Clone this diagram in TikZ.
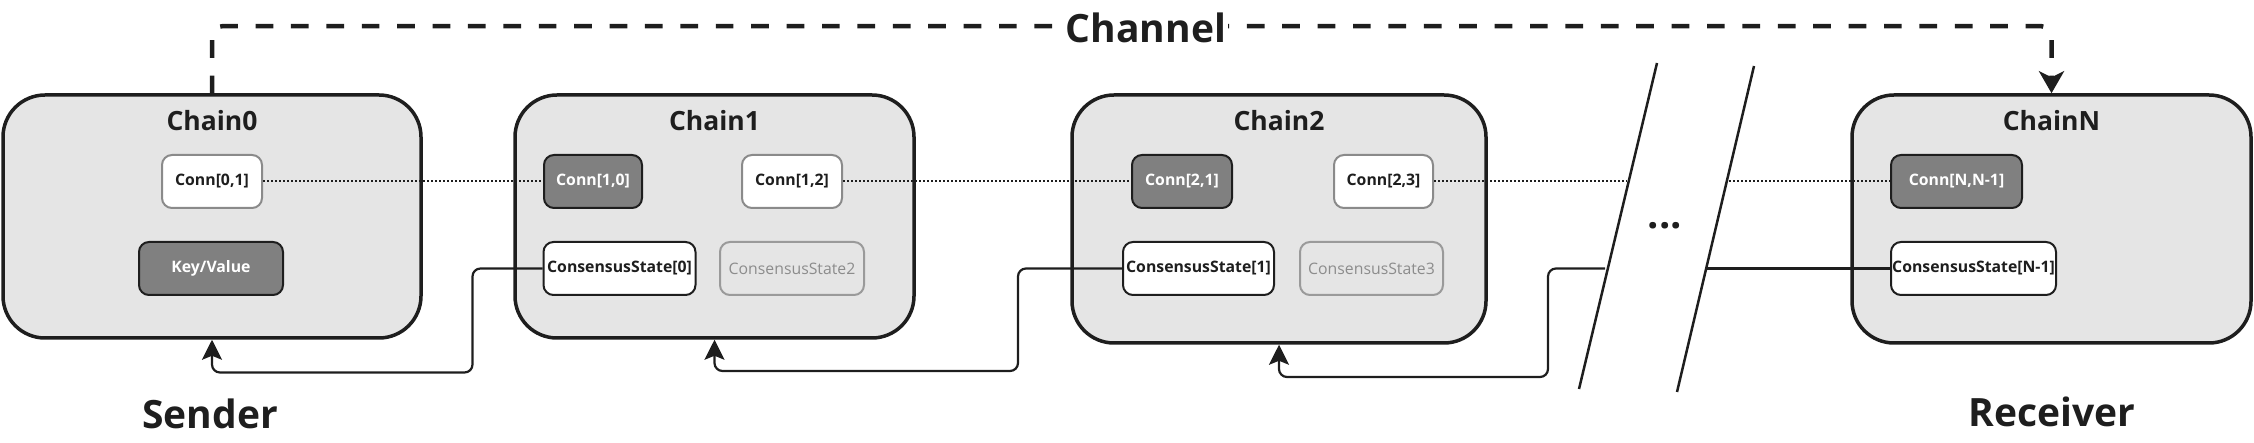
\documentclass[tikz,border=0pt]{standalone}
\usepackage{fontspec}
\setmainfont{Open Sans}
\usetikzlibrary{arrows.meta,calc}
\definecolor{chainfill}{HTML}{E5E5E5}
\definecolor{ink}{HTML}{1E1E1E}
\definecolor{darkfill}{HTML}{808080}
\definecolor{lightborder}{HTML}{8A8A8A}
\definecolor{fadetext}{HTML}{8C8C8C}
\definecolor{fadeborder}{HTML}{9A9A9A}
\begin{document}
\begin{tikzpicture}[x=1pt,y=-1pt,
  chainbox/.style={draw=ink, line width=3.5pt, fill=chainfill, rounded corners=42pt, inner sep=0pt},
  chaintitle/.style={font=\fontsize{26.5}{29}\selectfont\bfseries, text=ink, anchor=base},
  bigtext/.style={font=\fontsize{39}{44}\selectfont\bfseries, text=ink},
  inbox/.style={rounded corners=10pt, minimum height=53pt, inner sep=0pt, line width=2pt, font=\fontsize{15.8}{18}\selectfont\bfseries},
  darkbox/.style={inbox, draw=ink, fill=darkfill, text=white},
  whitebox/.style={inbox, draw=lightborder, fill=white, text=ink},
  statebox/.style={inbox, draw=ink, fill=white, text=ink},
  fadebox/.style={inbox, draw=fadeborder, fill=chainfill, text=fadetext, font=\fontsize{15.8}{18}\selectfont},
  link/.style={draw=ink, line width=2pt, dash pattern=on 2pt off 2pt},
  conn/.style={draw=ink, line width=2.2pt, rounded corners=8pt},
  connarrow/.style={conn, -{Stealth[length=20pt,width=20pt,inset=4pt]}},
  chanline/.style={draw=ink, line width=4.5pt, dash pattern=on 17.7pt off 17.7pt, rounded corners=10pt, -{Stealth[length=22pt,width=25pt,inset=6pt]}},
  slashline/.style={draw=ink, line width=2.5pt}
]
\useasboundingbox (0,0) rectangle (2254,443);

% chains
\node[chainbox, minimum width=418pt, minimum height=243pt] (Chain0) at (212,216.5) {};
\node[chainbox, minimum width=399pt, minimum height=243pt] (Chain1) at (714.5,216.5) {};
\node[chainbox, minimum width=414pt, minimum height=248pt] (Chain2) at (1279,219) {};
\node[chainbox, minimum width=399pt, minimum height=248pt] (ChainN) at (2051.5,219) {};

\node[chaintitle] (t0) at (212,131) {Chain0};
\node[chaintitle] (t1) at (714.5,131) {Chain1};
\node[chaintitle] (t2) at (1279,131) {Chain2};
\node[chaintitle] (tN) at (2051.5,131) {ChainN};

% inner boxes
\node[whitebox, minimum width=100pt] (Conn01) at (212,181.5) {Conn[0,1]};
\node[darkbox, minimum width=144pt] (KV) at (211,268.5) {Key/Value};
\node[darkbox, minimum width=98pt] (Conn10) at (593,181.5) {Conn[1,0]};
\node[whitebox, minimum width=100pt] (Conn12) at (792,181.5) {Conn[1,2]};
\node[statebox, minimum width=152pt] (CS0) at (619.5,268.5) {ConsensusState[0]};
\node[fadebox, minimum width=144pt] (CS2) at (792,268.5) {ConsensusState2};
\node[darkbox, minimum width=100pt] (Conn21) at (1182,181.5) {Conn[2,1]};
\node[whitebox, minimum width=99pt] (Conn23) at (1383.5,181.5) {Conn[2,3]};
\node[statebox, minimum width=151pt] (CS1) at (1198.5,268.5) {ConsensusState[1]};
\node[fadebox, minimum width=143pt] (CS3) at (1371.5,268.5) {ConsensusState3};
\node[darkbox, minimum width=131pt] (ConnNN) at (1956.5,181.5) {Conn[N,N-1]};
\node[statebox, minimum width=165pt] (CSN) at (1973.5,268.5) {ConsensusState[N-1]};

% break marks
\coordinate (s1top) at (1657,63);
\coordinate (s1bot) at (1579,389);
\coordinate (s2top) at (1754,66);
\coordinate (s2bot) at (1677,392);
\draw[slashline] (s1top) -- (s1bot);
\draw[slashline] (s2top) -- (s2bot);
\node[font=\fontsize{40}{44}\selectfont\bfseries, text=ink, anchor=base] (dots) at (1665,229) {...};

\coordinate (d1) at (1627,181.5);
\coordinate (d2) at (1729,181.5);
\coordinate (c1) at (1605,268.5);
\coordinate (c2) at (1707,268.5);

% dotted connection links
\draw[link] (Conn01.east) -- (Conn10.west);
\draw[link] (Conn12.east) -- (Conn21.west);
\draw[link] (Conn23.east) -- (d1);
\draw[link] (d2) -- (ConnNN.west);

% client update connectors
\draw[connarrow] (CS0.west) -| ++(-70,104) -| (Chain0.south);
\draw[connarrow] (CS1.west) -| ++(-104,102.5) -| (Chain1.south);
\draw[connarrow] (c1) -| ++(-57,108.5) -| (Chain2.south);
\draw[conn] (CSN.west) -- (c2);

% channel
\draw[chanline] (Chain0.north) -- ++(0,-67) -| (ChainN.north);
\node[bigtext, fill=white, inner sep=2pt] (chan) at (1146,28) {Channel};

\node[bigtext] (sender) at (210,414) {Sender};
\node[bigtext] (receiver) at (2052,412) {Receiver};
\end{tikzpicture}
\end{document}
